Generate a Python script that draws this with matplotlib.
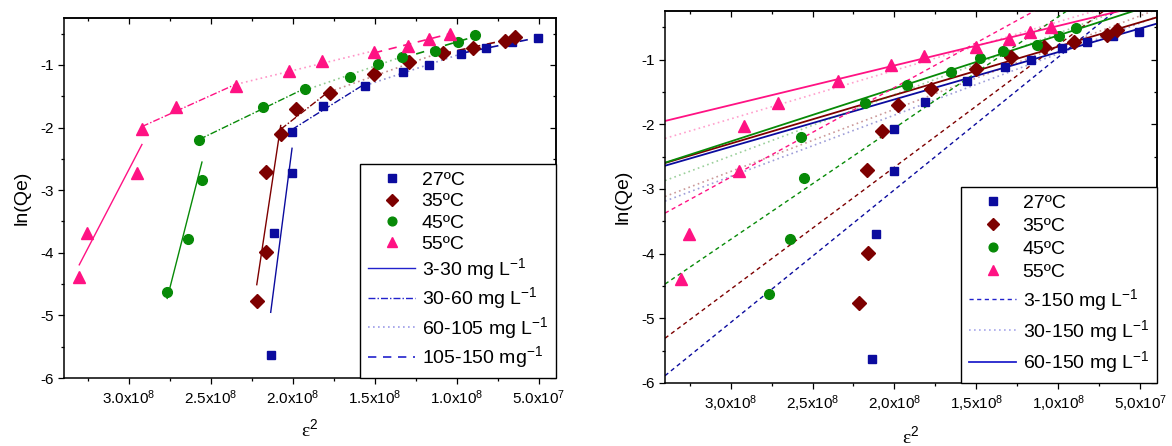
import numpy as np
import matplotlib
matplotlib.use("Agg")
import matplotlib.pyplot as plt
from matplotlib.lines import Line2D
from matplotlib.ticker import FixedLocator

plt.rcParams['font.family'] = ['Liberation Sans', 'DejaVu Sans']
plt.rcParams['mathtext.fontset'] = 'custom'
plt.rcParams['mathtext.rm'] = 'Liberation Sans'
plt.rcParams['mathtext.it'] = 'Liberation Sans:italic'
plt.rcParams['mathtext.bf'] = 'Liberation Sans:bold'

# Polanyi potential squared (epsilon^2) and ln(Qe) for each temperature
eps2_27 = np.array([2.134, 2.112, 2.004, 2.004, 1.813, 1.559, 1.325, 1.169, 0.975, 0.823, 0.664, 0.506]) * 1e8
lnq_27 = np.array([-5.63, -3.69, -2.73, -2.07, -1.65, -1.33, -1.12, -1.00, -0.82, -0.73, -0.64, -0.57])

eps2_35 = np.array([2.219, 2.163, 2.165, 2.073, 1.978, 1.774, 1.504, 1.289, 1.085, 0.902, 0.705, 0.642]) * 1e8
lnq_35 = np.array([-4.77, -3.99, -2.71, -2.11, -1.71, -1.45, -1.15, -0.96, -0.81, -0.73, -0.62, -0.55])

eps2_45 = np.array([2.765, 2.640, 2.553, 2.569, 2.181, 1.925, 1.652, 1.478, 1.335, 1.130, 0.994, 0.890]) * 1e8
lnq_45 = np.array([-4.63, -3.78, -2.83, -2.20, -1.67, -1.39, -1.19, -0.98, -0.87, -0.77, -0.64, -0.52])

eps2_55 = np.array([3.301, 3.252, 2.951, 2.919, 2.713, 2.344, 2.022, 1.819, 1.504, 1.299, 1.171, 1.0425]) * 1e8
lnq_55 = np.array([-4.39, -3.69, -2.73, -2.03, -1.67, -1.33, -1.09, -0.94, -0.80, -0.69, -0.58, -0.50])

temps = ['27ºC', '35ºC', '45ºC', '55ºC']

# point-index ranges (inclusive) of the concentration intervals
piecewise_ranges = [(0, 3), (3, 5), (5, 8), (8, 11)]
piecewise_labels = ['3-30 mg L$^{-1}$', '30-60 mg L$^{-1}$', '60-105 mg L$^{-1}$', '105-150 mg$^{-1}$']
overall_ranges = [(0, 11), (3, 11), (5, 11)]
overall_labels = ['3-150 mg L$^{-1}$', '30-150 mg L$^{-1}$', '60-150 mg L$^{-1}$']

xticks = [3.0e8, 2.5e8, 2.0e8, 1.5e8, 1.0e8, 0.5e8]
xminor = [3.25e8, 2.75e8, 2.25e8, 1.75e8, 1.25e8, 0.75e8]
xlabels_dot = ['3.0x10$^{8}$', '2.5x10$^{8}$', '2.0x10$^{8}$', '1.5x10$^{8}$', '1.0x10$^{8}$', '5.0x10$^{7}$']
xlabels_comma = ['3,0x10$^{8}$', '2,5x10$^{8}$', '2,0x10$^{8}$', '1,5x10$^{8}$', '1,0x10$^{8}$', '5,0x10$^{7}$']
yticks = [-6, -5, -4, -3, -2, -1]
yminor = [-5.5, -4.5, -3.5, -2.5, -1.5, -0.5]

series = [(eps2_27, lnq_27), (eps2_35, lnq_35), (eps2_45, lnq_45), (eps2_55, lnq_55)]
colors = ['#0b0b9e', '#7d0000', '#078a07', '#ff1283']
markers = ['s', 'D', 'o', '^']
msizes = [6.2, 7.0, 7.0, 8.0]

piece_styles = [
    dict(ls='-', lw=1.0, alpha=1.0),
    dict(ls=(0, (5, 1.5, 1, 1.5)), lw=1.0, alpha=1.0),
    dict(ls=(0, (1, 2)), lw=1.2, alpha=0.45),
    dict(ls=(0, (5, 4)), lw=1.2, alpha=1.0),
]
overall_styles = [
    dict(ls=(0, (3, 2.5)), lw=1.0, alpha=1.0),
    dict(ls=(0, (1, 2)), lw=1.2, alpha=0.4),
    dict(ls='-', lw=1.3, alpha=1.0),
]

fig = plt.figure(figsize=(11.72, 4.46), dpi=100)
axL = fig.add_axes([64 / 1172, 1 - 378 / 446, 492 / 1172, 360 / 446])
axR = fig.add_axes([665 / 1172, 1 - 383 / 446, 492 / 1172, 372 / 446])


def style_axes(ax, xlabels, xlim):
    ax.set_xlim(*xlim)
    ax.set_ylim(-6, -0.25)
    ax.xaxis.set_major_locator(FixedLocator(xticks))
    ax.xaxis.set_minor_locator(FixedLocator(xminor))
    ax.set_xticklabels(xlabels, fontsize=11)
    ax.yaxis.set_major_locator(FixedLocator(yticks))
    ax.yaxis.set_minor_locator(FixedLocator(yminor))
    ax.set_yticklabels([str(v) for v in yticks], fontsize=11)
    ax.tick_params(which='major', direction='out', length=4.5, width=0.9, pad=3)
    ax.tick_params(which='minor', direction='out', length=2.3, width=0.9)
    for sp in ax.spines.values():
        sp.set_linewidth(1.1)
    top = ax.secondary_xaxis('top')
    top.xaxis.set_major_locator(FixedLocator(xticks))
    top.xaxis.set_minor_locator(FixedLocator(xminor))
    top.tick_params(which='major', direction='in', length=4.5, width=0.9, labeltop=False)
    top.tick_params(which='minor', direction='in', length=2.3, width=0.9)
    top.spines['top'].set_linewidth(1.1)
    right = ax.secondary_yaxis('right')
    right.yaxis.set_major_locator(FixedLocator(yticks))
    right.yaxis.set_minor_locator(FixedLocator(yminor))
    right.tick_params(which='major', direction='in', length=4.5, width=0.9, labelright=False)
    right.tick_params(which='minor', direction='in', length=2.3, width=0.9)
    right.spines['right'].set_linewidth(1.1)
    ax.set_ylabel('ln(Qe)', fontsize=14, labelpad=7)
    ax.set_xlabel('ε$^{2}$', fontsize=14, family=['Liberation Serif', 'DejaVu Serif'], labelpad=8)


def draw_points(ax):
    for (x, y), c, m, ms in zip(series, colors, markers, msizes):
        ax.plot(x, y, ls='none', marker=m, ms=ms, color=c, mec=c, zorder=3)


def add_legend(ax, handles, labels, spacing):
    leg = ax.legend(handles, labels, loc='lower right', borderaxespad=0,
                    fontsize=14, frameon=True, fancybox=False, edgecolor='black', framealpha=1,
                    handlelength=2.4, handletextpad=0.35, labelspacing=spacing, borderpad=0.4)
    leg.get_frame().set_linewidth(1.0)
    return leg


# ---- left: piecewise linear fits per concentration interval ----
xlimL = (3.394e8, 0.395e8)
for (x, y), c in zip(series, colors):
    for (i0, i1), st in zip(piecewise_ranges, piece_styles):
        xs, ys = x[i0:i1 + 1], y[i0:i1 + 1]
        k, b = np.polyfit(xs, ys, 1)
        xx = np.array([xs.max(), xs.min()])
        axL.plot(xx, k * xx + b, color=c, ls=st['ls'], lw=st['lw'], alpha=st['alpha'], zorder=2)
draw_points(axL)
style_axes(axL, xlabels_dot, xlimL)

handlesL = [Line2D([], [], ls='none', marker=m, ms=ms * 0.9, color=c) for m, ms, c in zip(markers, msizes, colors)]
handlesL += [Line2D([], [], color='#2222cc', ls=st['ls'], lw=st['lw'], alpha=st['alpha']) for st in piece_styles]
add_legend(axL, handlesL, temps + piecewise_labels, 0.18)

# ---- right: overall linear fits extended across the axis ----
xlimR = (3.40e8, 0.398e8)
xfull = np.array(xlimR)
for (x, y), c in zip(series, colors):
    for (i0, i1), st in zip(overall_ranges, overall_styles):
        k, b = np.polyfit(x[i0:i1 + 1], y[i0:i1 + 1], 1)
        axR.plot(xfull, k * xfull + b, color=c, ls=st['ls'], lw=st['lw'], alpha=st['alpha'], zorder=2)
draw_points(axR)
style_axes(axR, xlabels_comma, xlimR)

handlesR = [Line2D([], [], ls='none', marker=m, ms=ms * 0.9, color=c) for m, ms, c in zip(markers, msizes, colors)]
handlesR += [Line2D([], [], color='#2222cc', ls=st['ls'], lw=st['lw'], alpha=st['alpha']) for st in overall_styles]
add_legend(axR, handlesR, temps + overall_labels, 0.28)

fig.savefig('out.png', dpi=100, facecolor='white')
